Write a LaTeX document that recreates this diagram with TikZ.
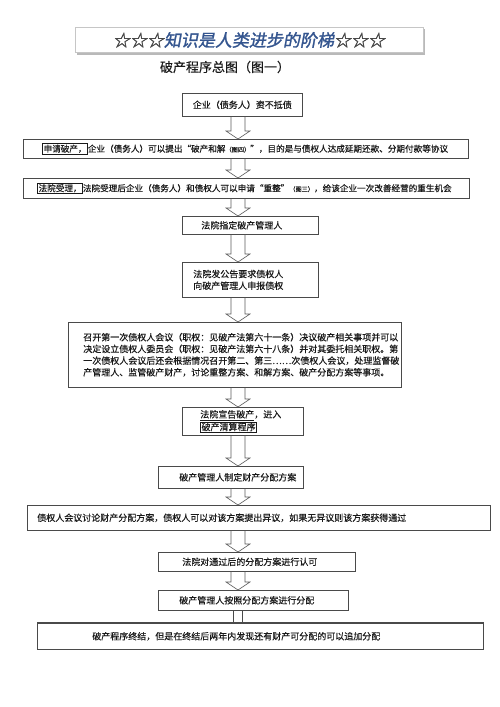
\documentclass[tikz,border=0pt]{standalone}
\usepackage{fontspec}
\setmainfont[FakeBold=0.4]{Noto Sans CJK SC}
\newfontfamily\headfont[FakeSlant=0.18,FakeBold=1.5]{Noto Sans CJK SC}
\usetikzlibrary{calc}
\definecolor{boxc}{HTML}{4A4A4A}
\definecolor{txtc}{HTML}{1A1A1A}
\definecolor{headblue}{HTML}{34558F}
\newcommand\fs{\fontsize{9}{11.7}\selectfont}
\newcommand\fsn{\fontsize{8.6}{11}\selectfont}
\newcommand\smallnote[1]{{\fontsize{6.2}{6.5}\selectfont #1}}
\newcommand\inbox[1]{{\setlength{\fboxsep}{0.8pt}\setlength{\fboxrule}{0.5pt}\fbox{#1}}}
\newcommand\blockarr[2]{%
  \draw[blkarr] let \p1=(#1.south -| axis), \p2=(#2.north -| axis) in
    (\x1-7pt,\y1) -- (\x1-7pt,\y2+8pt) -- (\x1-12pt,\y2+8pt) -- (\x2,\y2)
    -- (\x1+12pt,\y2+8pt) -- (\x1+7pt,\y2+8pt) -- (\x1+7pt,\y1);}
\begin{document}
\begin{tikzpicture}[x=1pt,y=-1pt,
  box/.style={draw=boxc, line width=0.6pt, anchor=north west, inner ysep=1pt,
    align=left, font=\fs, text=txtc},
  blkarr/.style={draw=boxc!90, line width=0.6pt, line join=miter},
  pairline/.style={draw=boxc, line width=0.6pt}]
\useasboundingbox (0,0) rectangle (500,707);
\fill[white] (0,0) rectangle (500,707);
\coordinate (axis) at (238,0);
% header
\fill[gray!55] (76.5,29) rectangle (424.5,55);
\node[draw=gray!45, fill=white, line width=0.5pt, anchor=north west,
  minimum width=348pt, minimum height=25pt, inner sep=0pt] (head) at (75,27) {};
\node[font=\headfont\fontsize{17}{17}\selectfont, text=headblue] (headtxt) at (249,40)
  {\textcolor{txtc!80}{☆☆☆}知识是人类进步的阶梯\textcolor{txtc!80}{☆☆☆}};
\node[font=\fontsize{13}{13}\selectfont, text=txtc] (title) at (225,67) {破产程序总图（图一）};
% boxes
\node[box, align=center, inner xsep=4pt, text width=112pt, minimum height=23pt] (b1) at (182,93)
  {企业（债务人）资不抵债};
\node[box, font=\fsn, inner xsep=19pt, text width=407pt, minimum height=19pt] (b2) at (23,139)
  {\inbox{申请破产，}企业（债务人）可以提出“破产和解\smallnote{（图四）}”，目的是与债权人达成延期还款、分期付款等协议};
\node[box, font=\fsn, inner xsep=14pt, text width=418pt, minimum height=20pt] (b3) at (23,178)
  {\inbox{法院受理，}法院受理后企业（债务人）和债权人可以申请“重整”\smallnote{（图三）}，给该企业一次改善经营的重生机会};
\node[box, inner xsep=19pt, text width=98pt, minimum height=18pt] (b4) at (182,216)
  {法院指定破产管理人};
\node[box, inner xsep=11pt, text width=114pt, minimum height=35pt] (b5) at (182,262)
  {法院发公告要求债权人\\向破产管理人申报债权};
\node[box, inner xsep=15pt, text width=303pt, minimum height=65pt] (b6) at (68,322)
  {召开第一次债权人会议（职权：见破产法第六十一条）决议破产相关事项并可以\\
   决定设立债权人委员会（职权：见破产法第六十八条）并对其委托相关职权。第\\
   一次债权人会议后还会根据情况召开第二、第三……次债权人会议，处理监督破\\
   产管理人、监管破产财产，讨论重整方案、和解方案、破产分配方案等事项。};
\node[box, inner xsep=18pt, text width=85pt, minimum height=28pt] (b7) at (182,407)
  {\underline{法院宣告破产}，进入\\\inbox{破产清算程序}};
\node[box, inner xsep=21pt, text width=103pt, minimum height=22pt] (b8) at (158,466)
  {破产管理人制定财产分配方案};
\node[box, inner xsep=10pt, text width=443pt, minimum height=25pt] (b9) at (27,505)
  {债权人会议讨论财产分配方案，债权人可以对该方案提出异议，如果无异议则该方案获得通过};
\node[box, inner xsep=24pt, text width=149pt, minimum height=19pt] (b10) at (158,552)
  {法院对通过后的分配方案进行认可};
\node[box, inner xsep=21pt, text width=148pt, minimum height=20pt] (b11) at (158,590)
  {破产管理人按照分配方案进行分配};
\node[box, inner xsep=55pt, text width=336pt, minimum height=26pt] (b12) at (37,623)
  {破产程序终结，但是在终结后两年内发现还有财产可分配的可以追加分配};
\draw[boxc, line width=1.6pt] (b12.north west) -- (b12.north east);
% arrows
\blockarr{b1}{b2}
\blockarr{b2}{b3}
\blockarr{b3}{b4}
\blockarr{b4}{b5}
\blockarr{b5}{b6}
\blockarr{b6}{b7}
\blockarr{b7}{b8}
\blockarr{b8}{b9}
\blockarr{b9}{b10}
\blockarr{b10}{b11}
\draw[pairline] let \p1=(b11.south -| axis), \p2=(b12.north -| axis) in
  (\x1-4.5pt,\y1) -- (\x1-4.5pt,\y2) (\x1+4.5pt,\y1) -- (\x1+4.5pt,\y2);
\end{tikzpicture}
\end{document}
